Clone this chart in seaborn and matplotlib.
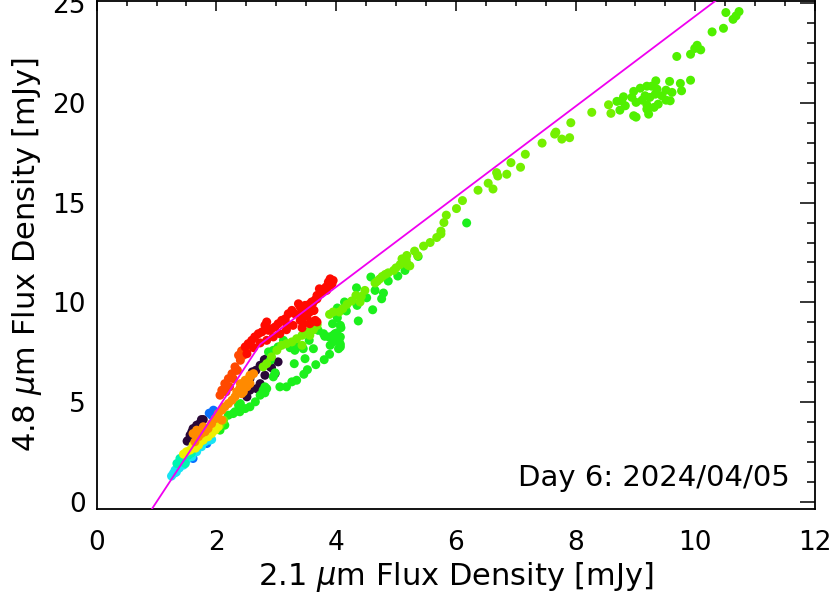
import numpy as np
import pandas as pd
import seaborn as sns
import matplotlib
matplotlib.use("Agg")
import matplotlib.pyplot as plt
from matplotlib.ticker import MultipleLocator

# --- data (x = 2.1 um flux, y = 4.8 um flux, mJy) ---
purple_x = [2.73, 2.80, 2.66, 2.59, 2.87, 3.03, 2.92, 2.73, 2.67, 1.75, 1.67, 1.59, 1.53, 1.61,
            2.84, 2.60, 2.90, 2.56, 2.81, 2.98, 1.78, 1.73, 1.64, 1.56, 1.51, 2.56, 2.51]
purple_y = [6.85, 7.13, 6.60, 6.40, 6.93, 7.02, 6.73, 5.93, 5.68, 4.13, 3.85, 3.52, 3.10, 3.68,
            7.18, 6.52, 6.77, 6.18, 6.35, 6.43, 4.13, 3.97, 3.63, 3.35, 3.05, 5.60, 5.27]

blue_x = [1.98, 1.92, 1.84, 1.61, 1.95, 1.88]
blue_y = [4.52, 4.35, 2.93, 2.18, 4.60, 4.45]

cyan_x = [1.75, 1.67, 1.59, 1.50, 1.42, 1.36, 1.31, 1.28, 1.89, 1.81, 2.03, 1.95, 1.92,
          1.33, 1.38, 1.45, 1.25, 1.30]
cyan_y = [2.77, 2.52, 2.27, 2.10, 1.93, 1.77, 1.60, 1.43, 3.10, 3.02, 3.85, 3.60, 3.13,
          1.50, 1.70, 1.85, 1.30, 1.45]

aqua_x = [1.39, 1.45, 1.53, 1.34, 1.48, 1.42, 1.58]
aqua_y = [2.18, 2.27, 2.35, 1.93, 1.93, 2.05, 2.45]

green_x = [2.06, 2.14, 2.20, 2.28, 2.39, 2.48, 2.31, 2.65, 2.73, 2.78, 2.84, 2.40, 3.26, 3.17,
           3.34, 3.06, 2.81, 2.95, 2.98, 2.78, 2.37, 2.56, 2.81, 3.30, 3.48, 3.45, 3.34, 3.79,
           3.98, 4.04, 4.07, 3.12, 3.03, 2.95, 3.23, 3.31, 2.87, 2.90, 3.90, 3.98, 3.70, 3.55,
           3.62, 3.89, 3.80, 3.66, 3.52, 3.46, 4.07, 4.08, 3.94, 4.01, 3.95, 3.88, 3.81, 4.07,
           4.05, 4.07, 4.04, 3.95, 4.37, 4.02, 4.17, 4.02, 4.14, 4.35, 4.61, 4.34, 4.51, 4.58,
           4.87, 4.79, 4.76, 4.65, 5.15, 5.03, 5.37, 6.18]
green_y = [3.60, 3.85, 4.35, 4.43, 4.52, 4.68, 4.52, 5.02, 5.35, 5.60, 5.68, 4.93, 6.02, 5.77,
           6.10, 5.77, 5.77, 6.27, 6.47, 5.52, 4.85, 4.77, 5.47, 6.93, 7.18, 7.68, 7.85, 8.43,
           8.43, 8.18, 7.77, 8.10, 7.77, 7.60, 7.73, 7.60, 7.52, 7.10, 7.85, 8.10, 8.60, 8.10,
           7.68, 7.40, 7.13, 6.88, 6.63, 6.40, 8.85, 8.73, 8.93, 8.47, 8.35, 8.27, 8.30, 8.27,
           8.05, 7.90, 7.68, 8.02, 9.07, 9.23, 9.57, 9.72, 10.02, 9.85, 9.63, 10.73, 10.23, 11.27,
           11.07, 10.47, 10.18, 10.60, 11.60, 11.32, 12.30, 13.98]

lime_x = [2.12, 2.06, 2.00, 3.01, 2.92, 2.84, 2.78, 3.09, 3.17, 3.26, 3.34, 3.43, 3.51, 3.59,
          3.68, 3.68, 3.62, 3.56, 3.43, 4.11, 4.05, 3.95, 3.89, 4.48, 4.42, 4.33, 4.40, 4.26,
          4.18, 4.87, 4.82, 4.77, 4.73, 4.69, 4.65, 5.18, 5.10, 5.21, 5.07, 5.00, 4.96, 5.36,
          5.31, 5.17, 5.12, 5.19, 5.23, 5.46, 5.57, 5.68, 5.75, 5.75, 5.80, 5.84, 6.01, 6.11,
          6.37, 6.62, 6.54, 6.68, 6.70, 6.85, 7.08, 6.92, 7.16, 7.44, 7.77, 7.90, 7.65, 7.67,
          7.92, 8.27, 8.55, 8.59]
lime_y = [4.10, 3.85, 3.68, 7.60, 7.27, 6.93, 6.77, 7.85, 7.93, 8.02, 8.18, 8.35, 8.52, 8.68,
          8.85, 8.93, 8.63, 8.35, 7.85, 9.68, 9.52, 9.52, 9.40, 10.60, 10.30, 10.35, 10.02, 10.07,
          9.90, 11.48, 11.40, 11.30, 11.18, 11.07, 10.97, 12.35, 12.18, 11.85, 11.90, 11.73, 11.60, 12.35,
          12.57, 12.13, 12.02, 11.90, 11.83, 12.82, 13.00, 13.25, 13.57, 13.43, 14.00, 14.37, 14.70, 15.10,
          15.62, 15.68, 15.97, 16.50, 16.33, 16.42, 16.77, 17.00, 17.42, 17.98, 18.18, 18.25, 18.43, 18.53,
          19.00, 19.52, 19.90, 19.47]

flare_x = [10.51, 10.73, 10.68, 10.63, 10.47, 10.28, 10.03, 9.99, 10.09, 9.92, 9.69, 9.92, 9.75,
           9.57, 9.34, 9.77, 9.61, 9.51, 9.27, 9.19, 9.08, 8.97, 9.36, 9.44, 9.33, 9.24, 9.16,
           9.11, 8.94, 8.80, 8.69, 8.77, 8.83, 8.74, 9.01, 9.31, 9.38, 9.51, 9.58, 9.19, 9.19,
           8.97, 9.01, 9.22]
flare_y = [24.52, 24.57, 24.35, 24.18, 23.73, 23.55, 22.88, 22.72, 22.65, 22.43, 22.32, 21.13, 20.97,
           21.07, 21.10, 20.60, 20.52, 20.63, 20.83, 20.83, 20.73, 20.57, 20.68, 20.35, 20.43, 20.27, 20.35,
           20.13, 20.27, 20.30, 20.07, 20.10, 19.85, 19.63, 20.02, 19.77, 19.93, 20.13, 20.10, 19.90, 19.68,
           19.35, 19.28, 19.43]

yellow_x = [1.56, 1.50, 1.61, 1.70, 1.78, 1.86, 1.92, 1.98, 2.03, 1.84, 1.73, 1.45, 1.65]
yellow_y = [2.60, 2.52, 2.85, 2.85, 3.10, 3.27, 3.43, 3.60, 3.77, 3.43, 3.02, 2.40, 2.70]

orange_x = [2.56, 2.51, 2.45, 2.39, 2.34, 2.31, 2.26, 2.20, 2.14, 2.09, 2.03, 1.98, 1.92, 1.86,
            1.81, 1.75, 1.70, 1.64, 2.45, 2.56, 2.51, 2.42, 2.09, 1.78, 1.67, 1.61, 2.40, 2.48,
            2.56, 2.62]
orange_y = [6.35, 6.10, 5.85, 5.68, 5.52, 5.27, 5.10, 4.93, 4.77, 4.60, 4.43, 4.18, 3.93, 3.68,
            3.52, 3.43, 3.27, 3.02, 5.52, 5.93, 5.77, 5.43, 4.10, 3.77, 3.60, 3.43, 5.93, 6.10,
            6.27, 6.43]

redorange_x = [2.40, 2.31, 2.26, 2.20, 2.14, 2.09, 2.06, 2.16, 2.28, 2.35, 2.45, 2.51, 2.22,
               2.42, 2.37, 2.33]
redorange_y = [7.10, 6.77, 6.43, 6.18, 5.93, 5.60, 5.35, 5.52, 6.18, 6.60, 7.35, 7.60, 5.77,
               7.57, 7.35, 6.60]

red_x = [3.95, 3.93, 3.87, 3.83, 3.78, 3.72, 3.74, 3.68, 3.65, 3.61, 3.55, 3.50, 3.45, 3.43,
         3.50, 3.56, 3.63, 3.65, 3.59, 3.45, 3.43, 3.90, 3.84, 3.73, 3.68, 3.59, 3.62, 3.54,
         3.48, 3.40, 3.37, 3.31, 3.26, 3.20, 3.15, 3.09, 3.03, 2.98, 2.92, 2.87, 2.81, 2.76,
         2.70, 2.64, 2.59, 2.53, 2.48, 2.51, 2.62, 2.73, 2.84, 2.95, 3.06, 3.17, 3.28, 3.40,
         3.51, 3.68, 3.56, 2.84, 3.17, 3.90]
red_y = [11.10, 10.93, 11.02, 10.77, 10.60, 10.68, 10.43, 10.35, 10.13, 9.97, 9.90, 9.80, 9.68, 9.47,
         9.40, 9.52, 9.60, 9.10, 9.02, 8.93, 8.73, 10.85, 10.60, 10.43, 10.18, 10.02, 9.60, 9.68,
         9.85, 9.77, 9.93, 9.43, 9.60, 9.43, 9.18, 9.10, 8.93, 8.77, 8.68, 8.60, 8.85, 8.52,
         8.43, 8.27, 8.10, 7.93, 7.77, 7.43, 7.73, 7.97, 8.10, 8.27, 8.43, 8.63, 8.85, 9.10,
         9.30, 9.02, 8.93, 9.02, 8.93, 11.18]

# colour of each group, in plotting (time) order
group_colors = {
    "purple": "#2a0838",
    "blue": "#0a70ff",
    "cyan": "#18e4f4",
    "aqua": "#00f5b0",
    "green": "#1cf01c",
    "lime": "#74f000",
    "flare": "#50f000",
    "yellow": "#eef000",
    "orange": "#ff8a00",
    "redorange": "#ff4800",
    "red": "#ff0a00",
}
groups = {
    "purple": (purple_x, purple_y),
    "blue": (blue_x, blue_y),
    "cyan": (cyan_x, cyan_y),
    "aqua": (aqua_x, aqua_y),
    "green": (green_x, green_y),
    "lime": (lime_x, lime_y),
    "flare": (flare_x, flare_y),
    "yellow": (yellow_x, yellow_y),
    "orange": (orange_x, orange_y),
    "redorange": (redorange_x, redorange_y),
    "red": (red_x, red_y),
}

# magenta model line vertices
line_x = [0.90, 2.73, 10.40]
line_y = [-0.45, 7.90, 25.25]

frames = [pd.DataFrame({"f21": gx, "f48": gy, "grp": name}) for name, (gx, gy) in groups.items()]
df = pd.concat(frames, ignore_index=True)

sns.set_style("white")
plt.rcParams["font.family"] = ["DejaVu Sans"]
plt.rcParams["mathtext.fontset"] = "dejavusans"
plt.rcParams["text.color"] = "black"
plt.rcParams["axes.labelcolor"] = "black"

fig = plt.figure(figsize=(8.3, 5.97), dpi=100)
ax = fig.add_axes([0.1165, 0.1474, 0.8655, 0.851])

sns.scatterplot(data=df, x="f21", y="f48", hue="grp", palette=group_colors,
                s=42, linewidth=0, legend=False, ax=ax, zorder=2)
sns.lineplot(x=line_x, y=line_y, sort=False, estimator=None, color="#f000f0",
             linewidth=1.3, ax=ax, zorder=3)

ax.set_xlim(0, 12)
ax.set_ylim(-0.35, 25.1)
ax.xaxis.set_major_locator(MultipleLocator(2))
ax.xaxis.set_minor_locator(MultipleLocator(0.5))
ax.yaxis.set_major_locator(MultipleLocator(5))
ax.yaxis.set_minor_locator(MultipleLocator(1))

ax.tick_params(axis="both", which="both", direction="in", top=True, right=True,
               colors="black", labelcolor="black", width=1.1)
ax.tick_params(axis="x", which="major", length=7.2, pad=15, labelsize=19)
ax.tick_params(axis="x", which="minor", length=3.6)
ax.tick_params(axis="y", which="major", length=10.5, pad=8, labelsize=19)
ax.tick_params(axis="y", which="minor", length=5.6)
for sp in ax.spines.values():
    sp.set_linewidth(1.3)
    sp.set_color("black")

ax.set_xlabel(r"2.1 $\mu$m Flux Density [mJy]", fontsize=22, labelpad=3, color="black")
ax.set_ylabel(r"4.8 $\mu$m Flux Density [mJy]", fontsize=22, labelpad=6, color="black")
ax.text(0.965, 0.062, "Day 6: 2024/04/05", transform=ax.transAxes,
        ha="right", va="center", fontsize=21, color="black")

fig.savefig("out.png", dpi=100)
